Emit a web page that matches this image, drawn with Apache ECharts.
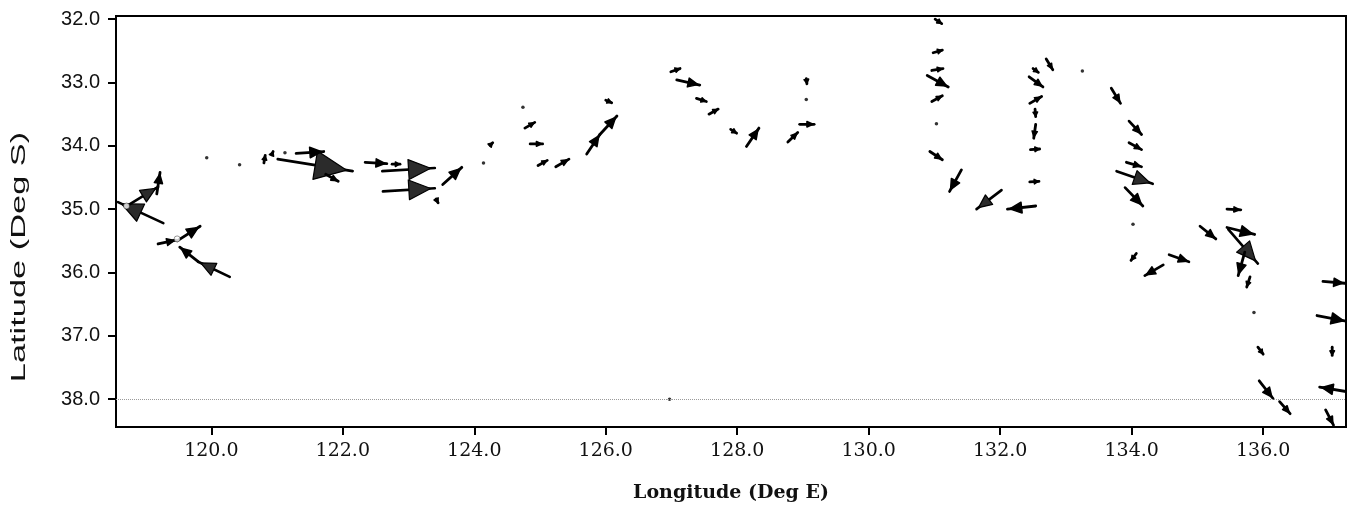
<!DOCTYPE html>
<html>
<head>
<meta charset="utf-8">
<script src="https://cdn.jsdelivr.net/npm/echarts@6/dist/echarts.min.js"></script>
<style>
  html, body { margin: 0; padding: 0; background: #fff; }
  #chart { width: 1355px; height: 515px; }
</style>
</head>
<body>
<div id="chart"></div>
<script>
// tick labels
const lonTicks = [120, 122, 124, 126, 128, 130, 132, 134, 136];
const latTicks = [32, 33, 34, 35, 36, 37, 38];

// current vectors: [lon tail, lat tail, lon tip, lat tip]
const arrowsWest = [
  [119.27, 35.22, 118.58, 34.89],
  [118.73, 34.94, 119.19, 34.65],
  [119.17, 34.76, 119.22, 34.42],
  [120.28, 36.07, 119.80, 35.83],
  [119.80, 35.83, 119.52, 35.60],
  [119.48, 35.50, 119.83, 35.27],
  [119.19, 35.55, 119.46, 35.49],
  [120.80, 34.27, 120.82, 34.15],
  [120.92, 34.14, 120.94, 34.09],
  [121.01, 34.21, 122.15, 34.40],
  [121.29, 34.12, 121.71, 34.09],
  [121.74, 34.45, 121.93, 34.56],
  [122.34, 34.26, 122.67, 34.28],
  [122.75, 34.29, 122.87, 34.29],
  [122.60, 34.40, 123.40, 34.35],
  [122.61, 34.72, 123.40, 34.67],
  [123.52, 34.61, 123.81, 34.34],
  [123.42, 34.84, 123.45, 34.90],
  [124.24, 33.99, 124.28, 33.95]
];
const arrowsCentral = [
  [124.77, 33.72, 124.92, 33.63],
  [124.85, 33.97, 125.04, 33.97],
  [124.97, 34.31, 125.11, 34.23],
  [125.24, 34.33, 125.44, 34.21],
  [125.71, 34.13, 125.91, 33.82],
  [125.91, 33.82, 126.17, 33.53],
  [126.00, 33.28, 126.09, 33.32],
  [126.99, 32.83, 127.13, 32.78],
  [127.08, 32.96, 127.43, 33.04],
  [127.38, 33.25, 127.53, 33.30],
  [127.57, 33.50, 127.71, 33.42],
  [127.90, 33.74, 127.99, 33.80],
  [128.14, 34.01, 128.33, 33.72],
  [128.77, 33.94, 128.92, 33.79],
  [128.95, 33.66, 129.17, 33.66],
  [129.05, 32.94, 129.06, 33.02]
];
const arrowsEast = [
  [131.01, 32.00, 131.11, 32.07],
  [130.98, 32.53, 131.12, 32.49],
  [130.96, 32.81, 131.13, 32.78],
  [130.89, 32.89, 131.21, 33.07],
  [130.96, 33.30, 131.12, 33.21],
  [130.93, 34.09, 131.12, 34.22],
  [131.41, 34.38, 131.23, 34.72],
  [132.02, 34.70, 131.64, 35.00],
  [132.54, 34.95, 132.11, 35.00],
  [132.70, 32.63, 132.80, 32.80],
  [132.50, 32.78, 132.58, 32.84],
  [132.44, 32.91, 132.65, 33.07],
  [132.45, 33.33, 132.63, 33.22],
  [132.53, 33.42, 132.54, 33.54],
  [132.54, 33.66, 132.51, 33.88],
  [132.46, 34.06, 132.60, 34.05],
  [132.45, 34.57, 132.59, 34.56],
  [133.69, 33.09, 133.83, 33.33],
  [133.96, 33.61, 134.15, 33.82],
  [133.96, 33.95, 134.15, 34.06],
  [133.92, 34.26, 134.15, 34.33],
  [133.77, 34.40, 134.32, 34.60],
  [133.90, 34.66, 134.17, 34.95],
  [134.07, 35.70, 133.99, 35.81],
  [134.48, 35.88, 134.20, 36.05],
  [134.57, 35.72, 134.87, 35.83],
  [135.45, 35.00, 135.66, 35.01],
  [135.04, 35.27, 135.28, 35.47],
  [135.45, 35.29, 135.87, 35.40],
  [135.47, 35.32, 135.92, 35.86],
  [135.72, 35.68, 135.62, 36.05],
  [135.80, 36.07, 135.75, 36.23],
  [136.91, 36.14, 137.24, 36.17],
  [135.92, 37.18, 136.00, 37.29],
  [135.94, 37.71, 136.15, 37.99],
  [136.25, 38.04, 136.41, 38.23],
  [136.95, 38.17, 137.07, 38.41],
  [136.82, 36.68, 137.26, 36.77],
  [137.05, 37.18, 137.05, 37.31],
  [137.26, 37.88, 136.86, 37.81]
];
// stations with no visible vector
const stationDots = [
  [119.93, 34.19], [120.43, 34.30], [121.12, 34.11], [124.14, 34.27],
  [124.74, 33.39], [129.05, 33.27], [131.03, 33.65], [133.25, 32.82],
  [134.02, 35.24], [135.86, 36.63], [126.97, 38.00]
];
// open station markers
const stationRings = [[118.71, 34.95], [119.48, 35.47]];

const chart = echarts.init(document.getElementById('chart'));

function renderArrow(params, api) {
  const p0 = api.coord([api.value(0), api.value(1)]);
  const p1 = api.coord([api.value(2), api.value(3)]);
  const dx = p1[0] - p0[0];
  const dy = p1[1] - p0[1];
  const len = Math.hypot(dx, dy) || 1;
  const ux = dx / len, uy = dy / len;
  const big = len > 30;
  const tip = [p0[0] + dx * 0.92, p0[1] + dy * 0.92];
  const hl = Math.max(4, len * 0.42);
  const hw = Math.max(2.3, len * 0.19);
  const bx = tip[0] - ux * hl, by = tip[1] - uy * hl;
  return {
    type: 'group',
    children: [
      {
        type: 'line',
        shape: { x1: p0[0], y1: p0[1], x2: p1[0], y2: p1[1] },
        style: { stroke: '#000', lineWidth: big ? 2.6 : 2.8, lineCap: 'round' }
      },
      {
        type: 'polygon',
        shape: { points: [tip, [bx - uy * hw, by + ux * hw], [bx + uy * hw, by - ux * hw]] },
        style: { fill: big ? '#2b2b2b' : '#000', stroke: '#000', lineWidth: big ? 1.2 : 1.5, lineJoin: 'round' }
      }
    ]
  };
}

const arrowSeries = (data) => ({
  type: 'custom',
  renderItem: renderArrow,
  clip: true,
  encode: { x: [0, 2], y: [1, 3] },
  data: data,
  silent: true
});

chart.setOption({
  animation: false,
  backgroundColor: '#fff',
  grid: {
    left: 116, right: 9, top: 16, bottom: 88,
    show: true, borderColor: '#000', borderWidth: 2, backgroundColor: 'transparent'
  },
  xAxis: {
    type: 'value',
    min: 118.55,
    max: 137.26,
    name: 'Longitude (Deg E)',
    nameLocation: 'middle',
    nameGap: 57,
    nameTextStyle: { fontFamily: 'DejaVu Serif', fontSize: 19, fontWeight: 'bold', color: '#111' },
    axisLine: { show: true, lineStyle: { color: '#000', width: 2 } },
    axisTick: { show: true, customValues: lonTicks, length: 8, lineStyle: { color: '#000', width: 2 } },
    axisLabel: {
      customValues: lonTicks,
      formatter: (v) => v.toFixed(1),
      margin: 15,
      fontFamily: 'DejaVu Serif',
      fontSize: 19,
      color: '#111'
    },
    splitLine: { show: false }
  },
  yAxis: {
    type: 'value',
    inverse: true,
    min: 31.95,
    max: 38.44,
    axisLine: { show: true, lineStyle: { color: '#000', width: 2 } },
    axisTick: { show: true, customValues: latTicks, length: 8, lineStyle: { color: '#000', width: 2 } },
    axisLabel: {
      customValues: latTicks,
      formatter: (v) => v.toFixed(1),
      margin: 16,
      fontFamily: 'Liberation Sans',
      fontSize: 20,
      color: '#111'
    },
    splitLine: { show: false }
  },
  graphic: [{
    type: 'text',
    x: 19,
    y: 257,
    rotation: Math.PI / 2,
    scaleX: 1.72,
    style: {
      text: 'Latitude (Deg S)',
      font: '20px "Liberation Sans"',
      fill: '#111',
      align: 'center',
      verticalAlign: 'middle'
    }
  }],
  series: [
    arrowSeries(arrowsWest),
    arrowSeries(arrowsCentral),
    arrowSeries(arrowsEast),
    {
      type: 'scatter',
      data: stationDots,
      symbolSize: 3.5,
      itemStyle: { color: '#000' },
      silent: true,
      markLine: {
        silent: true,
        symbol: 'none',
        label: { show: false },
        lineStyle: { type: 'dotted', color: '#9a9a9a', width: 1 },
        data: [{ yAxis: 38 }]
      }
    },
    {
      type: 'scatter',
      data: stationRings,
      symbolSize: 6,
      z: 5,
      itemStyle: { color: '#fff', borderColor: '#000', borderWidth: 0.5 },
      silent: true
    }
  ]
});
</script>
</body>
</html>
